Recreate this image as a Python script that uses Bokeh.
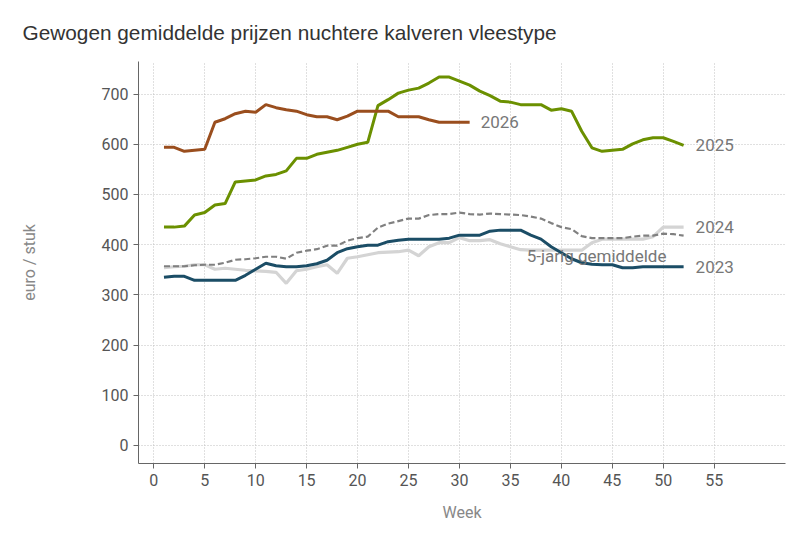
from bokeh.plotting import figure
from bokeh.models import FixedTicker, Range1d
from bokeh.core.properties import value
from bokeh.embed import file_html
from bokeh.resources import INLINE

weeks_2026 = list(range(1, 32))
vals_2026 = [594, 594, 586, 588, 590, 644, 651, 661, 666, 664, 679, 673, 669, 666, 659,
             655, 655, 649, 656, 666, 666, 666, 666, 655, 655, 655, 649, 644, 644, 644, 644]

weeks = list(range(1, 53))
vals_2025 = [435, 435, 437, 459, 464, 479, 482, 525, 527, 529, 537, 540, 547, 572, 572,
             580, 584, 588, 594, 600, 604, 677, 689, 702, 708, 712, 722, 734, 734, 726,
             718, 706, 697, 686, 684, 679, 679, 679, 668, 671, 666, 626, 593, 586, 588,
             590, 601, 609, 613, 613, 606, 598]
vals_2024 = [354, 356, 357, 360, 360, 351, 353, 351, 349, 348, 347, 345, 323, 348, 351,
             356, 360, 343, 373, 376, 380, 384, 385, 386, 389, 378, 396, 404, 404, 414,
             408, 408, 410, 402, 396, 390, 389, 389, 389, 389, 389, 389, 404, 411, 411,
             411, 411, 411, 416, 435, 435, 435]
vals_2023 = [335, 337, 337, 329, 329, 329, 329, 329, 339, 351, 363, 358, 356, 356, 358,
             362, 369, 384, 392, 396, 399, 399, 406, 409, 411, 411, 411, 411, 413, 419,
             419, 419, 427, 429, 429, 429, 419, 411, 396, 384, 372, 364, 361, 360, 360,
             354, 354, 356, 356, 356, 356, 356]
vals_avg = [357, 357, 357, 359, 360, 360, 364, 370, 371, 373, 376, 376, 372, 384, 388,
            391, 398, 398, 408, 413, 416, 434, 442, 447, 452, 452, 459, 461, 461, 464,
            461, 460, 462, 461, 460, 459, 456, 452, 443, 435, 431, 417, 413, 413, 413,
            413, 416, 418, 418, 422, 421, 418]

x_ticks = list(range(0, 60, 5))
y_ticks = list(range(0, 800, 100))

title_text = "Gewogen gemiddelde prijzen nuchtere kalveren vleestype"
FONT = "Roboto"

p = figure(width=792, height=538, output_backend="svg", toolbar_location=None,
           x_range=Range1d(-1.5, 62), y_range=Range1d(-36, 765),
           min_border_left=138, min_border_right=7, min_border_top=60, min_border_bottom=75)
p.outline_line_color = None
p.background_fill_color = "white"

p.title.text = title_text
p.title.text_font = "Liberation Sans"
p.title.text_font_size = "20.8px"
p.title.text_font_style = "normal"
p.title.text_color = "#333333"
p.title.offset = -116
p.title.standoff = 36

for ax, ticks, label in ((p.xaxis[0], x_ticks, "Week"), (p.yaxis[0], y_ticks, "euro / stuk")):
    ax.ticker = FixedTicker(ticks=ticks)
    ax.axis_label = label
    ax.axis_label_text_font = FONT
    ax.axis_label_text_font_size = "16px"
    ax.axis_label_text_font_style = "normal"
    ax.axis_label_text_color = "#888888"
    ax.major_label_text_font = FONT
    ax.major_label_text_font_size = "16px"
    ax.major_label_text_color = "#555555"
    ax.axis_line_color = "#666666"
    ax.major_tick_line_color = "#666666"
    ax.major_tick_out = 5
    ax.major_tick_in = 0
    ax.minor_tick_line_color = None

p.xaxis[0].axis_label_standoff = 14
p.yaxis[0].axis_label_standoff = 60

for g in (p.xgrid[0], p.ygrid[0]):
    g.grid_line_color = "#c0c0c0"
    g.grid_line_dash = "1 2"
    g.grid_line_width = 1

p.xgrid[0].ticker = FixedTicker(ticks=x_ticks)
p.ygrid[0].ticker = FixedTicker(ticks=y_ticks)

p.line(weeks, vals_2024, line_color="#d4d4d4", line_width=3.2)
p.line(weeks, vals_avg, line_color="#808080", line_width=2.2, line_dash="6 3")
p.line(weeks, vals_2023, line_color="#1b4d66", line_width=3)
p.line(weeks, vals_2025, line_color="#6b9000", line_width=3)
p.line(weeks_2026, vals_2026, line_color="#9a4e1e", line_width=3)

lab_color = "#777777"
p.text(x=[weeks_2026[-1]], y=[vals_2026[-1]], text=["2026"], x_offset=11,
       text_font=value(FONT), text_font_size="17px", text_color=lab_color,
       text_baseline="middle", text_align="left")
p.text(x=[weeks[-1], weeks[-1], weeks[-1]], y=[vals_2025[-1], vals_2024[-1], vals_2023[-1]],
       text=["2025", "2024", "2023"], x_offset=12,
       text_font=value(FONT), text_font_size="17px", text_color=lab_color,
       text_baseline="middle", text_align="left")
p.text(x=[36.6], y=[378], text=["5-jarig gemiddelde"],
       text_font=value(FONT), text_font_size="17px", text_color=lab_color,
       text_baseline="middle", text_align="left")

open("out.html", "w").write(file_html(p, INLINE))
